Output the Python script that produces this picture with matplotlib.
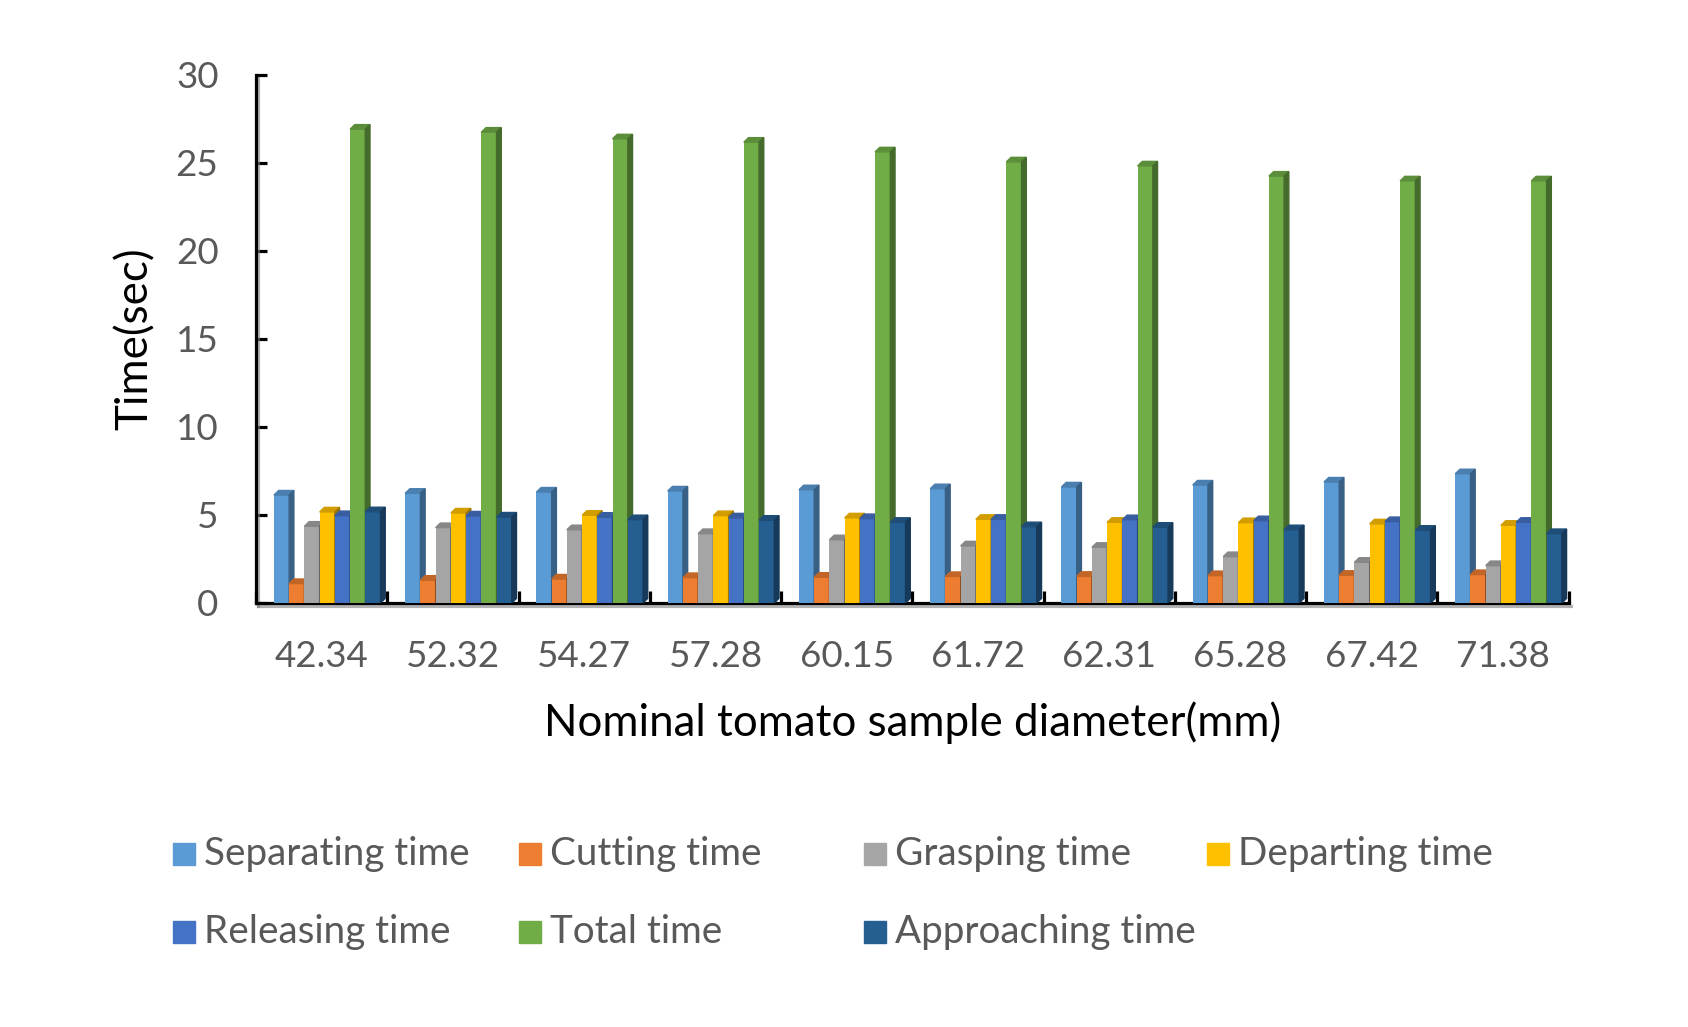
import matplotlib
matplotlib.use('Agg')
import numpy as np
import matplotlib.pyplot as plt
import matplotlib.colors as mcolors
import matplotlib.patheffects as pe
from matplotlib.patches import Polygon, Rectangle

plt.rcParams['font.family'] = ['Lato', 'DejaVu Sans']

diameters = ['42.34', '52.32', '54.27', '57.28', '60.15',
             '61.72', '62.31', '65.28', '67.42', '71.38']

separating = [6.13, 6.23, 6.30, 6.36, 6.43, 6.49, 6.59, 6.70, 6.87, 7.34]
cutting = [1.10, 1.29, 1.36, 1.44, 1.46, 1.50, 1.51, 1.55, 1.57, 1.61]
grasping = [4.36, 4.28, 4.16, 3.94, 3.59, 3.24, 3.16, 2.63, 2.31, 2.12]
departing = [5.17, 5.11, 4.98, 4.96, 4.83, 4.75, 4.58, 4.56, 4.49, 4.41]
releasing = [4.96, 4.94, 4.87, 4.83, 4.79, 4.75, 4.73, 4.67, 4.62, 4.58]
total = [26.92, 26.75, 26.37, 26.18, 25.63, 25.06, 24.83, 24.25, 23.98, 23.98]
approaching = [5.18, 4.88, 4.73, 4.70, 4.58, 4.33, 4.30, 4.16, 4.13, 3.94]

series_names = ['Separating time', 'Cutting time', 'Grasping time', 'Departing time',
                'Releasing time', 'Total time', 'Approaching time']
series_values = [separating, cutting, grasping, departing, releasing, total, approaching]
colors = ['#5B9BD5', '#ED7D31', '#A5A5A5', '#FFC000', '#4472C4', '#70AD47', '#255E91']


def shade(c, f):
    r, g, b = mcolors.to_rgb(c)
    return (r * f, g * f, b * f)


fig = plt.figure(figsize=(16.88, 10.27), dpi=100)
ax = fig.add_axes([0.1517, 0.4129, 0.7776, 0.927 - 0.4129])

x = np.arange(len(diameters))
w = 0.116
start = -0.364
dx = 0.036
dy = 0.26

for j, (name, vals, col) in enumerate(zip(series_names, series_values, colors)):
    lefts = x + start + j * w
    ax.bar(lefts, vals, width=w, align='edge', color=col, zorder=3 + j)
    for l, h in zip(lefts, vals):
        r = l + w
        # top face
        ax.add_patch(Polygon([(l, h), (l + dx, h + dy), (r + dx, h + dy), (r, h)],
                             closed=True, color=shade(col, 0.82), zorder=3 + j))
        # side face
        ax.add_patch(Polygon([(r, 0), (r + dx, dy), (r + dx, h + dy), (r, h)],
                             closed=True, color=shade(col, 0.62), zorder=3 + j))

ax.set_xlim(-0.5, len(diameters) - 0.5)
ax.set_ylim(0, 30)
ax.set_yticks(np.arange(0, 31, 5))
ax.set_xticks(x)
ax.set_xticklabels(diameters)
ax.set_xticks(np.arange(-0.5, len(diameters), 1.0), minor=True)

for s in ['top', 'right']:
    ax.spines[s].set_visible(False)
shadow = [pe.SimpleLineShadow(offset=(1.5, -2), shadow_color='#7f7f7f', alpha=0.6), pe.Normal()]
for s in ['left', 'bottom']:
    ax.spines[s].set_linewidth(2.3)
    ax.spines[s].set_color('black')
    ax.spines[s].set_path_effects(shadow)

ax.tick_params(axis='y', direction='in', length=8, width=2.3, pad=27,
               labelsize=26.5, labelcolor='#595959')
ax.tick_params(axis='x', which='major', length=0, pad=27,
               labelsize=26.5, labelcolor='#595959')
ax.tick_params(axis='x', which='minor', direction='in', length=9, width=2.3)

ax.set_xlabel('Nominal tomato sample diameter(mm)', fontsize=31.6, color='black', labelpad=20)
ax.set_ylabel('Time(sec)', fontsize=31.6, color='black', labelpad=14)

# legend laid out in equal-width columns, row by row
leg_x = [173, 519, 864, 1207]
leg_y = [854, 932]
W, H = 1688, 1027
for k, (name, col) in enumerate(zip(series_names, colors)):
    cx = leg_x[k % 4]
    cy = leg_y[k // 4]
    fig.add_artist(Rectangle((cx / W, 1 - (cy + 11) / H), 22 / W, 22 / H,
                             transform=fig.transFigure, color=col))
    fig.text((cx + 31) / W, 1 - cy / H, name, fontsize=27.8, color='#595959',
             va='center', ha='left')

fig.savefig('out.png', dpi=100)
